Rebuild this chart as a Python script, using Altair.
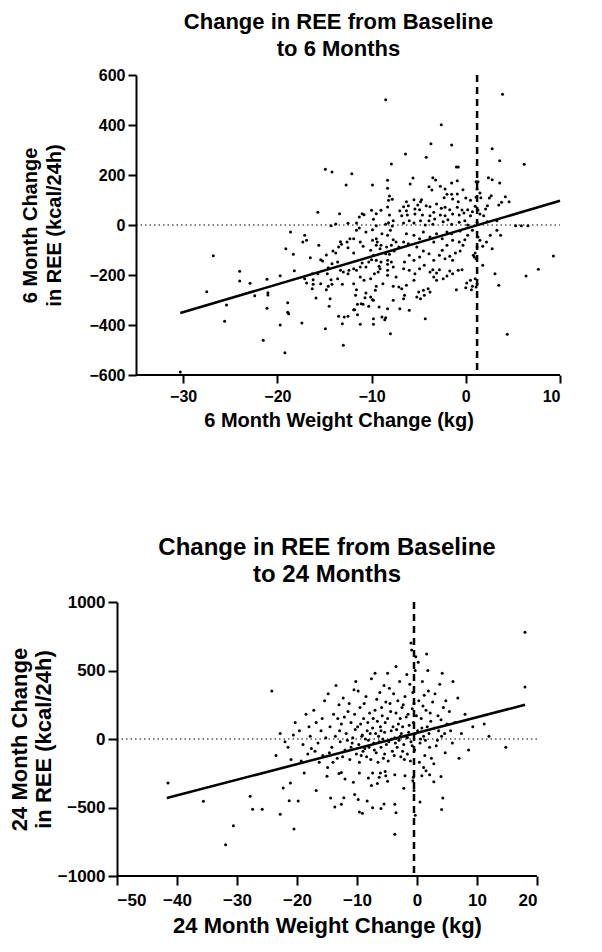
import altair as alt
import pandas as pd

FONT = "Liberation Sans"

# ---------------- 6-month panel: (weight change kg, REE change kcal/24h)
top_pts_left = [
    (-18.6, -28), (-19.1, -95), (-18.3, -117), (-26.8, -123), (-24.0, -185), (-18.2, -183),
    (-19.7, -203), (-21.1, -217), (-24.0, -224), (-22.9, -233), (-27.5, -267), (-21.0, -271),
    (-21.0, -280), (-22.4, -283), (-25.4, -320), (-18.9, -311), (-21.1, -333), (-18.9, -349),
    (-18.8, -355), (-25.6, -385), (-19.7, -400), (-21.5, -461), (-19.2, -511), (-30.3, -588),
]
top_pts_midhigh = [
    (-8.5, 501), (-14.9, 223), (-14.2, 212), (-12.1, 205), (-7.9, 244), (-8.3, 179), (-12.7, 160),
    (-9.9, 160), (-8.3, 147), (-8.1, 116), (-8.2, 99), (-7.8, 103), (-8.3, 72), (-9.0, 59),
    (-10.0, 59), (-15.7, 51), (-13.4, 45), (-11.0, 45), (-10.8, 41), (-9.5, 45), (-11.3, 32),
    (-8.1, 40), (-9.8, 23), (-7.7, 17), (-8.2, 9), (-13.8, 4), (-12.5, 7), (-11.6, 8), (-8.5, 3),
    (-9.5, -3), (-14.3, -3), (-7.8, -4),
]
top_pts_midlow = [
    (-17.1, -41), (-17.3, -68), (-16.9, -61), (-15.6, -81), (-16.5, -131), (-15.4, -139),
    (-15.2, -144), (-14.8, -120), (-14.1, -104), (-13.8, -112), (-13.5, -88), (-13.2, -77),
    (-13.3, -67), (-12.6, -68), (-12.3, -55), (-11.9, -55), (-12.5, -91), (-11.9, -112),
    (-11.2, -68), (-10.9, -85), (-11.6, -21), (-11.3, -12), (-10.6, -28), (-9.9, -19),
    (-9.5, -55), (-8.9, -35), (-8.3, -41), (-8.0, -21), (-7.7, -59), (-7.4, -68), (-7.9, -81),
    (-8.4, -88), (-9.0, -81), (-9.5, -81), (-9.9, -61), (-9.4, -68), (-9.1, -95),
    (-8.5, -115), (-8.1, -117), (-7.6, -104), (-7.1, -88), (-10.1, -101), (-9.8, -121),
    (-10.0, -139), (-10.3, -148), (-9.5, -141), (-9.0, -148), (-8.3, -141), (-7.9, -148),
    (-7.7, -168), (-8.3, -157), (-9.2, -165), (-9.1, -175), (-10.6, -168), (-11.0, -152),
    (-11.2, -168), (-11.6, -181), (-11.9, -175), (-12.4, -181), (-12.5, -195), (-13.0, -188),
    (-13.3, -181), (-13.6, -148), (-14.2, -155), (-14.6, -171), (-14.7, -195), (-15.7, -195),
    (-16.3, -195), (-16.2, -219), (-17.1, -215), (-16.9, -232), (-16.2, -237), (-16.3, -255),
    (-15.4, -235), (-14.3, -219), (-13.6, -215), (-14.2, -237), (-14.6, -245), (-14.8, -259),
    (-13.1, -237), (-11.9, -235), (-11.6, -259), (-11.2, -208), (-10.8, -221), (-10.1, -215),
    (-9.7, -195), (-9.3, -188), (-8.3, -181), (-8.3, -201), (-7.7, -245), (-7.4, -208),
    (-8.8, -235), (-9.5, -245), (-9.6, -261), (-10.6, -272), (-10.1, -288), (-9.9, -299),
    (-10.7, -291), (-11.7, -281), (-11.1, -315), (-10.9, -317), (-11.5, -317), (-11.8, -339),
    (-10.3, -325), (-9.8, -301), (-9.2, -328), (-8.3, -335), (-7.7, -301), (-7.1, -248),
    (-15.9, -292), (-14.4, -295), (-14.5, -325), (-13.5, -365), (-12.9, -368), (-12.5, -365),
    (-13.1, -395), (-11.5, -359), (-11.9, -339), (-11.2, -397), (-9.8, -375), (-9.8, -397),
    (-8.9, -368), (-8.5, -371), (-8.6, -379), (-17.4, -392), (-14.9, -415), (-13.0, -481),
    (-8.0, -435),
]
top_pts_righthigh = [
    (3.9, 523), (-2.6, 401), (-3.7, 325), (-1.5, 320), (-6.4, 284), (-4.2, 271), (2.8, 305),
    (3.6, 257), (6.2, 243), (-1.0, 232), (-0.8, 232), (-5.6, 188), (-5.9, 164), (-3.5, 189),
    (-3.2, 180), (-1.5, 168), (-0.9, 177), (2.4, 189), (2.8, 181), (3.6, 168), (-3.9, 153),
    (-3.6, 140), (-2.7, 155), (-2.2, 144), (-0.3, 141), (1.1, 173), (1.3, 173), (1.2, 144),
    (1.5, 128), (1.1, 111), (1.6, 109), (-2.0, 123), (-1.5, 123), (-0.9, 124), (-2.3, 109),
    (-1.4, 104), (-0.8, 93), (0.0, 108), (0.5, 99), (-6.3, 93), (-5.5, 101), (-4.8, 93),
    (-4.7, 101), (-5.1, 80), (-4.2, 77), (-3.8, 73), (-6.6, 73), (-6.1, 77), (-7.0, 57),
    (-6.3, 57), (-5.4, 64), (-4.9, 61), (-3.1, 84), (-2.6, 67), (-2.2, 71), (-1.7, 61),
    (-0.9, 71), (-0.4, 60), (0.2, 61), (0.7, 53), (1.0, 75), (1.3, 60), (2.1, 64), (2.3, 77),
    (2.5, 108), (2.7, 117), (3.5, 80), (3.8, 91), (4.2, 113), (4.6, 93), (-6.8, 37), (-6.2, 40),
    (-5.4, 44), (-4.6, 40), (-3.8, 37), (-3.4, 51), (-2.7, 40), (-2.2, 37), (-1.4, 44),
    (-0.7, 40), (-0.2, 48), (0.5, 37), (1.5, 44), (1.9, 37), (-6.0, 17), (-4.8, 17),
    (-3.9, 17), (-3.3, 24), (-2.4, 13), (-1.9, 21), (-0.7, 11), (-0.1, 17), (1.2, 11),
    (2.3, 13), (3.3, 17), (-6.6, 8), (-5.5, 8), (-4.3, 0), (-3.5, 3), (-1.5, 3), (0.2, 0),
    (5.3, -3), (5.9, -3), (6.6, -3),
]
top_pts_rightlow = [
    (9.3, -124), (7.7, -177), (6.4, -204), (4.4, -437), (3.5, -241), (3.1, -195), (1.8, -161),
    (2.8, -95), (3.3, -21), (3.7, -41), (2.6, -41), (2.2, -68), (1.5, -61), (1.8, -85),
    (1.2, -88), (1.3, -48), (1.0, -112), (0.9, -128), (1.1, -135), (0.8, -121),
    (1.0, -215), (1.2, -235), (1.1, -248), (0.5, -221), (0.1, -232), (0.7, -245),
    (0.0, -251), (0.6, -259), (-1.0, -259), (-0.4, -179), (-0.8, -181), (-1.4, -195),
    (-1.7, -184), (-2.0, -204), (-2.4, -215), (-3.1, -221), (-3.4, -208), (-3.1, -192),
    (-2.8, -179), (-3.5, -179), (-1.4, -141), (-1.7, -125), (-1.1, -112), (-0.6, -104),
    (-0.3, -81), (-0.7, -68), (-0.1, -59), (0.2, -41), (0.7, -21), (-1.4, -61), (-2.0, -81),
    (-2.5, -101), (-2.8, -121), (-2.2, -135), (-3.4, -141), (-3.9, -115), (-4.5, -104),
    (-4.9, -128), (-5.5, -141), (-6.0, -121), (-6.5, -148), (-6.6, -175), (-6.0, -181),
    (-5.4, -195), (-4.9, -175), (-4.4, -161), (-3.8, -188), (-5.5, -221), (-6.3, -241),
    (-6.8, -255), (-5.0, -268), (-4.5, -261), (-4.0, -255), (-3.8, -268), (-4.4, -281),
    (-4.8, -295), (-5.2, -288), (-6.5, -281), (-6.6, -295), (-7.0, -335), (-6.0, -341),
    (-4.3, -375), (-3.4, -68), (-3.8, -48), (-3.1, -35), (-2.5, -55), (-2.0, -28), (-4.9, -55),
    (-4.5, -28), (-5.5, -41), (-6.3, -35), (-6.6, -68), (-6.1, -75), (-5.2, -88), (-0.6, -24),
    (-1.5, -35),
]
top_fit = [(-30.3, -352), (10.0, 97)]
top_vline = [1.2]

# ---------------- 24-month panel
bot_pts_left = [
    (-41.5, -321), (-35.6, -455), (-27.8, -417), (-27.4, -513), (-25.8, -513), (-30.6, -633),
    (-31.9, -772), (-22.3, -357), (-21.1, -321), (-21.3, -451), (-19.8, -453), (-22.8, -549),
    (-20.5, -657), (-18.8, -249), (-16.8, -376), (-15.0, -271), (-14.4, -431), (-13.7, -496),
    (-13.0, -252), (-14.9, -208),
]
bot_pts_midlow = [
    (-12.6, -244), (-12.0, -292), (-10.6, -316), (-9.6, -249), (-8.1, -285), (-7.6, -340),
    (-7.4, -249), (-6.6, -324), (-6.3, -280), (-6.1, -249), (-5.3, -237), (-5.2, -268),
    (-4.9, -309), (-3.7, -261), (-2.0, -268), (-2.2, -359), (-0.7, -304), (-0.5, -376),
    (0.8, -268), (1.5, -232), (2.1, -261), (2.8, -312), (-12.2, -429), (-12.6, -477),
    (-10.4, -405), (-9.8, -441), (-8.3, -453), (-7.4, -501), (-6.0, -508), (-5.5, -475),
    (-3.7, -477), (-9.6, -532), (-9.1, -542), (-3.5, -539), (-3.7, -695), (0.5, -460),
    (-0.3, -556), (-0.6, -280), (1.1, -208), (4.0, -273), (4.3, -431), (4.1, -515),
]
bot_pts_upper_left = [
    (-24.2, 350), (-22.8, 40), (-21.5, -60), (-20.6, 30), (-23.5, -120), (-21.0, -150),
    (-20.3, 120), (-22.0, -20), (-19.6, 60), (-19.0, -40), (-18.5, 180), (-18.2, -110),
    (-17.8, 20), (-19.3, -160), (-18.0, 90), (-17.6, -70), (-17.2, 210), (-16.8, 120),
    (-16.5, -30), (-16.0, 60), (-15.7, -120), (-15.4, 280), (-15.2, 10), (-16.3, -170),
    (-15.8, 150), (-17.0, -90), (-14.8, 330), (-14.5, 90), (-14.2, -60), (-13.9, 180),
    (-13.6, 20), (-13.3, -140), (-13.0, 250), (-12.8, -20), (-12.6, 110), (-14.0, -170),
    (-13.5, 390), (-12.9, 60), (-14.6, -100), (-13.2, 150), (-12.3, 300), (-12.0, -80),
    (-11.8, 40), (-11.5, 200), (-11.2, -150), (-11.0, 120), (-10.8, -30), (-10.5, 360),
    (-10.3, 70), (-10.1, -110), (-12.1, 160), (-11.6, -10), (-11.3, 260), (-10.7, 10),
    (-10.4, 180), (-12.4, -130), (-11.0, -60), (-10.2, 420),
]
bot_pts_upper_mid = [
    (-9.9, 90), (-9.7, -40), (-9.5, 230), (-9.3, -120), (-9.1, 30), (-8.9, 150), (-8.7, -70),
    (-8.5, 310), (-8.3, 60), (-8.1, -10), (-7.9, 190), (-7.7, -150), (-9.8, 350), (-9.4, 110),
    (-9.0, -90), (-8.6, 0), (-8.2, 120), (-7.8, 40), (-9.6, -170), (-8.8, 260), (-8.0, -60),
    (-7.6, 440), (-9.2, 20), (-8.4, -130), (-7.4, 80), (-7.2, -30), (-7.0, 210), (-6.8, -100),
    (-6.6, 130), (-6.4, 20), (-6.2, 340), (-6.0, -60), (-5.8, 170), (-5.6, -140), (-5.4, 50),
    (-5.2, 270), (-7.3, 150), (-6.9, 40), (-6.5, -170), (-6.1, 90), (-5.7, 0), (-5.3, 120),
    (-7.1, -80), (-6.7, 290), (-6.3, -20), (-5.9, 230), (-5.5, 390), (-5.1, -40), (-7.0, 480),
    (-6.0, 60), (-5.4, -110), (-4.9, 150), (-4.7, -20), (-4.5, 260), (-4.3, 60), (-4.1, -90),
    (-3.9, 330), (-3.7, 10), (-3.5, 190), (-3.3, -60), (-3.1, 110), (-2.9, 420), (-2.7, -130),
    (-2.6, 40), (-4.8, -160), (-4.4, 200), (-4.0, 90), (-3.6, -30), (-3.2, 280), (-2.8, 150),
    (-4.6, 370), (-4.2, 0), (-3.8, -120), (-3.4, 70), (-3.0, -10), (-2.5, 230), (-4.9, 480),
    (-3.5, 530), (-2.8, 20),
]
bot_pts_upper_right = [
    (-2.4, 90), (-2.2, -40), (-2.0, 310), (-1.8, 160), (-1.6, -110), (-1.4, 50), (-1.2, 400),
    (-1.0, -20), (-0.8, 220), (-0.6, 120), (-0.4, -80), (-0.2, 600), (-2.3, 250), (-1.9, 20),
    (-1.5, 180), (-1.1, -160), (-0.7, 340), (-0.3, 40), (-2.1, -150), (-1.7, 470), (-1.3, 100),
    (-0.9, 650), (-0.5, 260), (-0.1, 170), (-2.4, -90), (-1.6, 10), (-0.8, -50), (-1.0, 700),
    (-0.3, 500), (0.1, 60), (0.3, 280), (0.5, -30), (0.7, 150), (0.9, 420), (1.1, 20),
    (1.3, -120), (1.5, 210), (1.7, 90), (1.9, 350), (2.1, -60), (2.3, 130), (0.2, 560),
    (0.6, 0), (1.0, 240), (1.4, -10), (1.8, 500), (2.2, 190), (0.4, -170), (0.8, 80),
    (1.2, 320), (1.6, 620), (2.0, 40), (2.4, -140), (2.6, 270), (2.9, 80), (3.2, -50),
    (3.5, 170), (3.8, 400), (4.1, 20), (4.4, 230), (4.7, -100), (5.0, 110), (3.0, 330),
    (3.6, 60), (4.2, 480), (4.8, 280), (2.8, -180), (3.4, -10), (4.0, 140), (4.6, 40),
    (5.4, 200), (5.9, -30), (6.3, 120), (6.8, 300), (7.4, 40), (8.0, 180), (8.6, -80),
    (9.3, 90), (6.0, 420), (7.0, -140), (5.6, 60), (11.2, 110), (12.0, 20), (14.8, -60),
    (18.0, 780), (18.0, 380),
]
bot_fit = [(-41.7, -431), (18.0, 250)]
bot_vline = [-0.5]

top_xticks = [-30, -20, -10, 0, 10]
top_yticks = [-600, -400, -200, 0, 200, 400, 600]
bot_xticks = [-50, -40, -30, -20, -10, 0, 10, 20]
bot_yticks = [-1000, -500, 0, 500, 1000]


def ax(**kw):
    base = dict(format="d", grid=False, domainColor="black", domainWidth=2,
                tickColor="black", tickWidth=2, labelFont=FONT, labelFontWeight="bold",
                labelColor="black", titleFont=FONT, titleFontWeight="bold", titleColor="black")
    base.update(kw)
    return alt.Axis(**base)


def panel(pts, fit, vline, xdom, axis_x0, xticks, ydom, yticks, title, tsize, xtitle, ytitle,
          w, h, lab, tit, tick, xlabpad, xtitpad, ytitpad, yoffset, tline):
    df = pd.DataFrame(pts, columns=["kg", "ree"])
    xs = alt.Scale(domain=xdom, nice=False, zero=False)
    ys = alt.Scale(domain=ydom, nice=False, zero=False)
    xax = ax(values=xticks, title=xtitle, labelFontSize=lab, titleFontSize=tit, tickSize=tick,
             labelPadding=xlabpad, titlePadding=xtitpad, domain=False)
    yax = ax(values=yticks, title=ytitle, labelFontSize=lab, titleFontSize=tit, tickSize=tick,
             labelPadding=3, titlePadding=ytitpad, titleLineHeight=tline, offset=yoffset)
    X = alt.X("kg:Q", scale=xs, axis=xax)
    Y = alt.Y("ree:Q", scale=ys, axis=yax)
    xline = alt.Chart(pd.DataFrame({"kg": [axis_x0], "kg2": [xdom[1]], "ree": [ydom[0]]})).mark_rule(
        color="black", strokeWidth=2
    ).encode(x=X, x2="kg2:Q", y=Y)
    zero = alt.Chart(pd.DataFrame({"kg": [axis_x0], "kg2": [xdom[1]], "ree": [0]})).mark_rule(
        color="black", strokeWidth=1.2, strokeDash=[1.5, 3]
    ).encode(x=X, x2="kg2:Q", y=Y)
    vl = alt.Chart(pd.DataFrame({"kg": vline})).mark_rule(
        color="black", strokeWidth=2.5, strokeDash=[7, 5]
    ).encode(x=X)
    reg = alt.Chart(pd.DataFrame(fit, columns=["kg", "ree"])).mark_line(
        color="black", strokeWidth=2.5
    ).encode(x=X, y=Y)
    dots = alt.Chart(df).mark_circle(color="black", opacity=1, size=9).encode(x=X, y=Y)
    return alt.layer(zero, vl, reg, dots, xline).properties(
        width=w, height=h,
        title=alt.TitleParams(title, fontSize=tsize, font=FONT, fontWeight="bold",
                              anchor="middle", frame="group", lineHeight=27, offset=6),
    )


# top panel: plot frame starts 19 px left of its y axis so both panels share one origin
top = panel(top_pts_left + top_pts_midhigh + top_pts_midlow + top_pts_righthigh + top_pts_rightlow,
            top_fit, top_vline, [-37.02, 10], -35, top_xticks, [-600, 600], top_yticks,
            ["Change in REE from Baseline", "to 6 Months"], 22, "6 Month Weight Change (kg)",
            ["6 Month Change", "in REE (kcal/24h)"], 443, 300,
            16, 20, 8, 5, 6, 24, -19, 24)
bot = panel(bot_pts_left + bot_pts_midlow + bot_pts_upper_left + bot_pts_upper_mid + bot_pts_upper_right,
            bot_fit, bot_vline, [-50, 20], -50, bot_xticks, [-1000, 1000], bot_yticks,
            ["Change in REE from Baseline", "to 24 Months"], 24, "24 Month Weight Change (kg)",
            ["24 Month Change", "in REE (kcal/24h)"], 420, 274,
            17, 22, 9, 7, 7, 2, 0, 24)

chart = alt.concat(top, bot, columns=1, spacing=106).properties(
    padding={"left": 0, "top": 3, "right": 5, "bottom": 3}
).configure_view(stroke=None)

chart.save("out.html", embed_options={"renderer": "svg", "actions": False})
